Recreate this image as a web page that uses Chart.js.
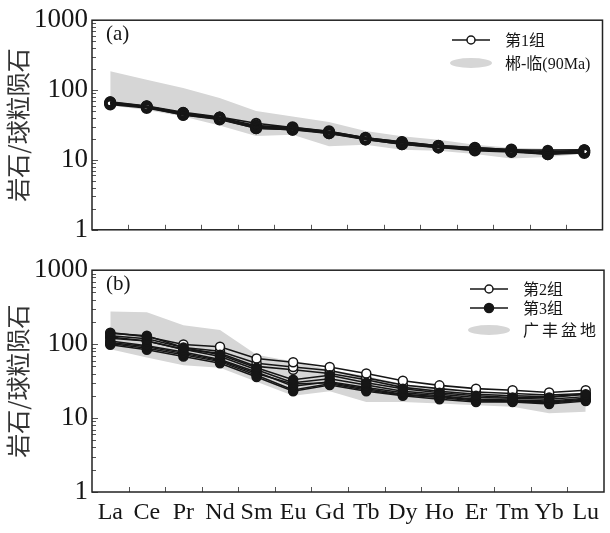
<!DOCTYPE html>
<html>
<head>
<meta charset="utf-8">
<script src="https://cdn.jsdelivr.net/npm/chart.js@4.4.1/dist/chart.umd.min.js"></script>
<style>
  html, body { margin: 0; padding: 0; background: #fff; }
  #wrap { position: relative; width: 610px; height: 533px; }
  #wrap canvas { position: absolute; left: 0; }
</style>
</head>
<body>
<div id="wrap">
  <canvas id="chartA" width="610" height="250" style="top:0"></canvas>
  <canvas id="chartB" width="610" height="283" style="top:250px"></canvas>
</div>
<script>
// REE, chondrite normalised
const elements = ['La', 'Ce', 'Pr', 'Nd', 'Sm', 'Eu', 'Gd', 'Tb', 'Dy', 'Ho', 'Er', 'Tm', 'Yb', 'Lu'];
const decades = [1, 10, 100, 1000];

// (a) group 1 samples
const g1a = [68, 59, 48, 41, 33.5, 29, 25.5, 20.8, 18.2, 16, 15, 14, 13.8, 14];
const g1b = [65, 57, 46, 40, 30, 28.5, 25, 20.5, 17.5, 15.6, 14.2, 13.6, 12.6, 13.8];
const g1c = [62, 55.5, 44.5, 38.5, 28.5, 27, 24, 19.6, 16.8, 15, 14.6, 13.3, 12.1, 12.6];
const g1d = [66, 58, 47, 40.5, 29.5, 28, 24, 20.2, 17.6, 15.8, 14, 13.2, 12.5, 12.9];
const g1e = [64, 57, 44, 38, 28.5, 27, 25, 19.6, 16.8, 15.2, 13.6, 13, 12.1, 13.2];
const g1f = [67, 58.5, 46.5, 40, 31, 29.3, 25.8, 20.8, 18, 16, 14.9, 14.1, 13.1, 13.6];
// (a) Chen-Lin 90 Ma field
const chenlinUpper = [186, 140, 107, 77, 50, 42, 35, 26, 21.8, 19.5, 16.5, 15, 14.5, 14];
const chenlinLower = [60, 52, 42, 31, 22, 23, 15.7, 16.5, 14, 13.5, 12.2, 10.5, 11, 12.3];

// (b) group 2 samples
const g2a = [143, 126, 99, 92, 64, 57, 49, 40, 32, 27.7, 25, 23.8, 22.2, 23.8];
const g2b = [130, 118, 90, 80, 55, 49, 44, 35, 28, 25, 22.5, 21.5, 20.5, 21.5];
const g2c = [120, 110, 85, 75, 50, 45, 40, 33, 26, 23, 21, 20, 19.5, 21];
// (b) group 3 samples
const g3a = [140, 130, 90, 72, 48, 33, 38, 30, 25, 22, 20, 19, 19, 21];
const g3b = [125, 110, 85, 68, 45, 30, 34, 28, 23, 21, 19, 18.5, 18, 19.5];
const g3c = [110, 95, 78, 62, 42, 27, 31, 26, 22, 20, 18, 17.5, 17, 18.5];
const g3d = [102, 88, 72, 58, 38, 24, 29, 24, 20.5, 19, 17, 16.8, 16, 17.5];
const g3e = [98, 84, 68, 55, 36, 23, 28, 23, 20, 18, 16.5, 16.5, 15.5, 17];
const g3f = [105, 92, 75, 60, 40, 29, 30, 25, 21, 19.5, 17.5, 17, 16.5, 18];
// (b) Guangfeng basin field
const guangfengUpper = [277, 269, 180, 155, 72, 58, 45, 37, 29, 25, 22, 20.5, 19.5, 20];
const guangfengLower = [85, 66, 52, 48, 31, 20, 23, 16.5, 16.5, 15.7, 14.9, 14.2, 11.6, 12.2];

const serif = '"Liberation Serif", "Noto Sans CJK SC", serif';
const ink = '#161616';
const bandGrey = '#d6d6d6';

// log ticks 1..9, 10..90, 100..900, 1000
const logTicks = [];
decades.forEach(d => {
    if (d === 1000) { logTicks.push(d); return; }
    for (let m = 1; m < 10; m++) logTicks.push(m * d);
});

const openLine = (data, r, bw, face) => ({
    data: data, borderColor: ink, borderWidth: 1.6,
    pointRadius: r || 4.5, pointBorderWidth: bw || 1.5,
    pointBackgroundColor: face || '#fff', pointBorderColor: ink, fill: false
});
const filledLine = data => ({
    data: data, borderColor: ink, borderWidth: 1.5,
    pointRadius: 4.5, pointBorderWidth: 1.5,
    pointBackgroundColor: ink, pointBorderColor: ink, fill: false
});
const bandEdge = (data, fill) => ({
    data: data, borderColor: 'rgba(0,0,0,0)', borderWidth: 1,
    pointRadius: 0, backgroundColor: bandGrey, fill: fill
});

// frame, inward ticks, panel letter and the legend
const decorPlugin = {
    id: 'decor',
    afterDraw(chart, args, opts) {
        const { ctx, chartArea: a, scales } = chart;
        ctx.save();
        ctx.strokeStyle = '#555';
        ctx.lineWidth = 1;
        logTicks.forEach(v => {
            const py = Math.round(scales.y.getPixelForValue(v)) + 0.5;
            const len = decades.includes(v) ? 6 : 4;
            ctx.beginPath();
            ctx.moveTo(a.left, py);
            ctx.lineTo(a.left + len, py);
            ctx.stroke();
        });
        for (let i = 1; i < elements.length; i++) {
            const px = Math.round((scales.x.getPixelForValue(i - 1) + scales.x.getPixelForValue(i)) / 2) + 0.5;
            ctx.beginPath();
            ctx.moveTo(px, a.bottom);
            ctx.lineTo(px, a.bottom - 5);
            ctx.stroke();
        }
        ctx.strokeStyle = '#222';
        ctx.lineWidth = 1.5;
        ctx.strokeRect(a.left, a.top, a.right - a.left, a.bottom - a.top);

        ctx.fillStyle = ink;
        ctx.textBaseline = 'middle';
        ctx.font = '21px ' + serif;
        ctx.fillText(opts.panel, a.left + 14, a.top + 14);

        ctx.font = '16px ' + serif;
        opts.items.forEach(it => {
            const y = it.y - chart.canvas.offsetTop;
            if (it.kind === 'band') {
                ctx.fillStyle = bandGrey;
                ctx.beginPath();
                ctx.ellipse(it.x, y, 21, 5, 0, 0, Math.PI * 2);
                ctx.fill();
            } else {
                ctx.strokeStyle = ink;
                ctx.lineWidth = 1.5;
                ctx.beginPath();
                ctx.moveTo(it.x - 19, y);
                ctx.lineTo(it.x + 19, y);
                ctx.stroke();
                ctx.beginPath();
                ctx.arc(it.x, y, it.kind === 'open' ? 4 : 4.5, 0, Math.PI * 2);
                ctx.fillStyle = it.kind === 'open' ? '#fff' : ink;
                ctx.fill();
                ctx.stroke();
            }
            ctx.fillStyle = ink;
            ctx.letterSpacing = it.spacing || '0px';
            ctx.fillText(it.text, it.tx, y + 2);
            ctx.letterSpacing = '0px';
        });
        ctx.restore();
    }
};

function yAxis() {
    return {
        type: 'logarithmic', min: 1, max: 1000,
        afterBuildTicks: s => { s.ticks = logTicks.map(v => ({ value: v })); },
        afterFit: s => { s.width = 92; },
        grid: { display: false, drawTicks: false },
        border: { display: false },
        ticks: {
            autoSkip: false, padding: 4, color: ink,
            font: { family: serif, size: 27 },
            callback: v => decades.includes(v) ? String(v) : ''
        },
        title: {
            display: true, text: '岩石/球粒陨石', color: '#333',
            font: { family: '"Noto Sans CJK SC", sans-serif', size: 24 },
            padding: { top: 3, bottom: 0 }
        }
    };
}

function makeChart(id, datasets, showX, pad, decor) {
    return new Chart(document.getElementById(id), {
        type: 'line',
        data: { labels: elements, datasets: datasets },
        options: {
            responsive: false,
            animation: false,
            layout: { padding: pad },
            elements: { line: { tension: 0 } },
            scales: {
                x: {
                    offset: true,
                    afterFit: s => { s.height = showX ? 41 : 0; },
                    grid: { display: false, drawTicks: false },
                    border: { display: false },
                    ticks: {
                        display: showX, padding: 6, color: ink,
                        autoSkip: false, maxRotation: 0, minRotation: 0,
                        font: { family: serif, size: 24 }
                    }
                },
                y: yAxis()
            },
            plugins: {
                legend: { display: false },
                tooltip: { enabled: false },
                filler: { drawTime: 'beforeDatasetsDraw' },
                decor: decor
            }
        },
        plugins: [decorPlugin]
    });
}

// group 1 circles are see-through so the stacked samples read as one heavy mark
const clearFace = 'rgba(255,255,255,0)';
makeChart('chartA', [
    openLine(g1a, 4.5, 2, clearFace), openLine(g1b, 4.5, 3, clearFace), openLine(g1c, 4.5, 3, clearFace),
    openLine(g1d, 4.5, 3, clearFace), openLine(g1e, 4.5, 3, clearFace), openLine(g1f, 4.5, 3, clearFace),
    bandEdge(chenlinUpper, '+1'), bandEdge(chenlinLower, false)
], false, { top: 11, right: 3, bottom: 8, left: 0 }, {
    panel: '(a)',
    items: [
        { kind: 'open', x: 471, y: 40, tx: 505, text: '第1组' },
        { kind: 'band', x: 471, y: 63, tx: 505, text: '郴-临(90Ma)' }
    ]
});

// first dataset is painted last, so group 3 sits over group 2
makeChart('chartB', [
    filledLine(g3a), filledLine(g3b), filledLine(g3c),
    filledLine(g3d), filledLine(g3e), filledLine(g3f),
    openLine(g2a), openLine(g2b), openLine(g2c),
    bandEdge(guangfengUpper, '+1'), bandEdge(guangfengLower, false)
], true, { top: 10, right: 3, bottom: 0, left: 0 }, {
    panel: '(b)',
    items: [
        { kind: 'open', x: 489, y: 289, tx: 523, text: '第2组' },
        { kind: 'filled', x: 489, y: 308, tx: 523, text: '第3组' },
        { kind: 'band', x: 489, y: 330, tx: 523, text: '广丰盆地', spacing: '3px' }
    ]
});
</script>
</body>
</html>
